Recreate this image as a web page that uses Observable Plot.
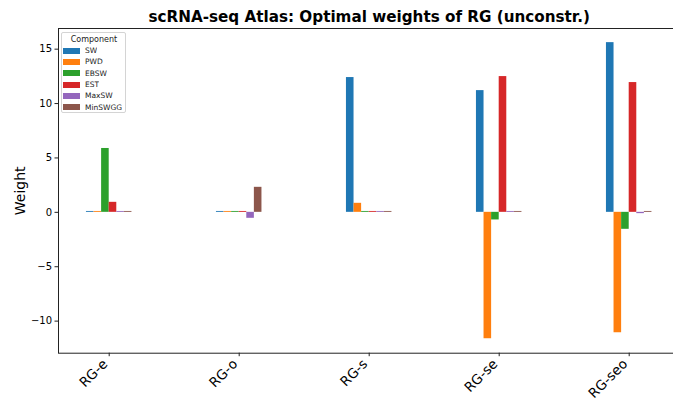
<!DOCTYPE html>
<html><head><meta charset="utf-8">
<script src="https://cdn.jsdelivr.net/npm/d3@7"></script>
<script src="https://cdn.jsdelivr.net/npm/@observablehq/plot@0.6"></script>
<style>
html,body{margin:0;padding:0;overflow:hidden;background:#fff;}
#wrap{position:relative;width:673px;height:402px;overflow:hidden;}
#wrap > svg{max-width:none !important;}
#legend{position:absolute;left:61px;top:32px;width:65px;height:81px;border:1px solid #d4d4d4;border-radius:2px;background:rgba(255,255,255,0.8);font-family:"DejaVu Sans",sans-serif;box-sizing:border-box;padding-left:1px;}
#legend .ttl{font-size:8px;text-align:center;margin-top:1px;height:11px;line-height:11px;color:#222}
.lg-swatches{margin:0 !important;min-height:0 !important;}
.lg-swatch{height:11.3px !important;padding:0 !important;margin:0 !important;display:flex !important;align-items:center !important;}
.lg-swatch > svg{margin-right:5px !important;}
</style></head>
<body><div id="wrap"></div>
<script>
const title = "scRNA-seq Atlas: Optimal weights of RG (unconstr.)";
const yLabel = "Weight";
const categories = ["RG-e", "RG-o", "RG-s", "RG-se", "RG-seo"];
const components = ["SW", "PWD", "EBSW", "EST", "MaxSW", "MinSWGG"];
const colors = ["#1f77b4", "#ff7f0e", "#2ca02c", "#d62728", "#9467bd", "#8c564b"];
const SW      = [0.08, 0.08, 12.39, 11.19, 15.6];
const PWD     = [0.08, 0.08, 0.83, -11.62, -11.07];
const EBSW    = [5.87, 0.08, 0.08, -0.7, -1.56];
const EST     = [0.92, 0.08, 0.08, 12.48, 11.93];
const MaxSW   = [0.08, -0.55, 0.08, 0.08, -0.12];
const MinSWGG = [0.08, 2.3, 0.08, 0.08, 0.08];
const yTicks = [-10, -5, 0, 5, 10, 15];
const yDomain = [-12.95, 16.9];
const xDomain = [-0.39, 4.39];

const series = {SW, PWD, EBSW, EST, MaxSW, MinSWGG};
const groupWidth = 0.35;
const bw = groupWidth / components.length;
const rows = [];
categories.forEach((cat, ci) => {
  components.forEach((comp, k) => {
    rows.push({cat, ci, comp, k, value: series[comp][ci]});
  });
});

const chart = Plot.plot({
  width: 680,
  height: 402,
  marginLeft: 58,
  marginRight: 0.6,
  marginTop: 28,
  marginBottom: 49.3,
  style: {fontFamily: "DejaVu Sans", color: "#000", background: "#fff", maxWidth: "none"},
  x: {domain: xDomain, axis: null},
  y: {domain: yDomain, axis: null},
  color: {domain: components, range: colors},
  marks: [
    Plot.rectY(rows, {
      x1: d => d.ci + (d.k - components.length / 2) * bw,
      x2: d => d.ci + (d.k - components.length / 2 + 1) * bw,
      y: "value",
      fill: "comp"
    }),
    Plot.frame({stroke: "#222", strokeWidth: 1}),
    Plot.axisY({ticks: yTicks, tickSize: 3.5, tickPadding: 3, fontSize: 10, label: null, stroke: "#222"}),
    Plot.axisX({ticks: d3.range(categories.length), tickSize: 3.5, label: null, stroke: "#222", text: null}),
    Plot.axisX({ticks: d3.range(categories.length), tickFormat: i => categories[i], tickRotate: -45, tickSize: 0, tickPadding: 6.5, fontSize: 13.5, label: null, dx: -4, dy: 2}),
    Plot.text([title], {frameAnchor: "top", dy: -11, fontWeight: "bold", fontSize: 15.2, lineAnchor: "middle"}),
    Plot.text([yLabel], {frameAnchor: "left", dx: -38, rotate: -90, fontSize: 14, lineAnchor: "middle", textAnchor: "middle"})
  ]
});
chart.style.maxWidth = "none";
const wrap = document.getElementById("wrap");
wrap.appendChild(chart);

const leg = document.createElement("div");
leg.id = "legend";
const ttl = document.createElement("div");
ttl.className = "ttl";
ttl.textContent = "Component";
leg.appendChild(ttl);
leg.appendChild(Plot.legend({
  color: {domain: components, range: colors},
  legend: "swatches",
  columns: 1,
  swatchWidth: 17,
  swatchHeight: 6,
  className: "lg",
  style: {fontFamily: "DejaVu Sans", fontSize: "7.5px", color: "#222", margin: "0"}
}));
wrap.appendChild(leg);
</script>
</body></html>
